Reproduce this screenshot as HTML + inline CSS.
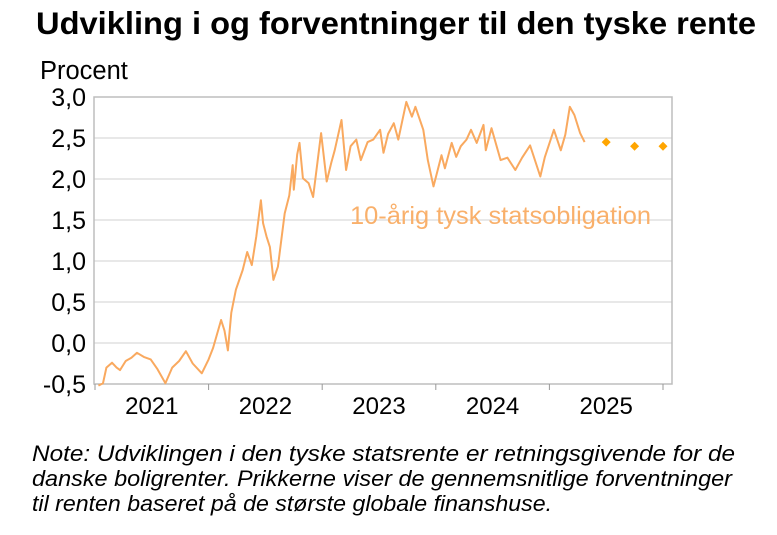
<!DOCTYPE html>
<html><head><meta charset="utf-8"><style>
body{margin:0;width:777px;height:530px;background:#fff;font-family:"Liberation Sans",Arial,sans-serif;overflow:hidden}
svg text{font-family:"Liberation Sans",Arial,sans-serif}
</style></head><body>
<svg id="chart" width="777" height="530" viewBox="0 0 777 530" xmlns="http://www.w3.org/2000/svg">
<text x="396" y="34" text-anchor="middle" font-size="31.5" font-weight="bold" fill="#000" textLength="720" lengthAdjust="spacingAndGlyphs">Udvikling i og forventninger til den tyske rente</text>
<text x="40" y="79" font-size="25.5" fill="#000">Procent</text>
<g id="grid"></g>
<rect x="94" y="97" width="578" height="287" fill="none" stroke="#bdbdbd" stroke-width="1.5"/>
<g id="ticks"></g>
<path id="line" fill="none" stroke="#f9a95f" stroke-width="2" stroke-linejoin="round"/>
<g id="dots"></g>
<text x="350" y="224" font-size="25" fill="#f9b06b" textLength="301" lengthAdjust="spacingAndGlyphs">10-årig tysk statsobligation</text>
<text font-size="22" font-style="italic" fill="#000">
<tspan x="32" y="461" textLength="703" lengthAdjust="spacingAndGlyphs">Note: Udviklingen i den tyske statsrente er retningsgivende for de</tspan>
<tspan x="32" y="486" textLength="700" lengthAdjust="spacingAndGlyphs">danske boligrenter. Prikkerne viser de gennemsnitlige forventninger</tspan>
<tspan x="32" y="511" textLength="520" lengthAdjust="spacingAndGlyphs">til renten baseret på de største globale finanshuse.</tspan>
</text>
</svg>
<script>
const yTicks=[-0.5,0,0.5,1,1.5,2,2.5,3];
const yTickLabels=["-0,5","0,0","0,5","1,0","1,5","2,0","2,5","3,0"];
const yearLabels=["2021","2022","2023","2024","2025"];
const dates=[2021.03,2021.07,2021.1,2021.15,2021.19,2021.22,2021.27,2021.32,2021.37,2021.43,2021.49,2021.55,2021.62,2021.68,2021.74,2021.8,2021.86,2021.94,2022.0,2022.04,2022.11,2022.14,2022.17,2022.2,2022.24,2022.3,2022.34,2022.38,2022.42,2022.46,2022.48,2022.51,2022.54,2022.57,2022.61,2022.67,2022.71,2022.74,2022.75,2022.78,2022.8,2022.83,2022.88,2022.92,2022.99,2023.04,2023.08,2023.11,2023.17,2023.21,2023.25,2023.3,2023.34,2023.4,2023.45,2023.51,2023.54,2023.58,2023.63,2023.67,2023.74,2023.79,2023.82,2023.89,2023.93,2023.98,2024.05,2024.08,2024.14,2024.18,2024.22,2024.27,2024.31,2024.36,2024.42,2024.44,2024.49,2024.57,2024.63,2024.7,2024.76,2024.83,2024.92,2024.96,2025.04,2025.1,2025.14,2025.18,2025.22,2025.27,2025.31];
const yields=[-0.52,-0.49,-0.3,-0.24,-0.3,-0.33,-0.22,-0.18,-0.12,-0.17,-0.2,-0.32,-0.49,-0.3,-0.22,-0.1,-0.25,-0.37,-0.2,-0.06,0.28,0.15,-0.09,0.37,0.65,0.89,1.11,0.95,1.3,1.74,1.46,1.3,1.17,0.77,0.93,1.58,1.8,2.17,1.87,2.3,2.44,2.01,1.95,1.78,2.56,1.97,2.2,2.35,2.72,2.11,2.4,2.48,2.23,2.45,2.48,2.6,2.32,2.55,2.68,2.48,2.94,2.76,2.88,2.6,2.23,1.91,2.29,2.13,2.44,2.27,2.4,2.48,2.6,2.44,2.66,2.35,2.62,2.23,2.26,2.11,2.26,2.41,2.03,2.27,2.6,2.35,2.54,2.88,2.78,2.56,2.45];
const fcDates=[2025.5,2025.75,2026.0];
const fcValues=[2.45,2.4,2.4];
const NS='http://www.w3.org/2000/svg';
const X=t=>95+(t-2021)*113.6;
const Y=v=>384-(v+0.5)*82;
const grid=document.getElementById('grid'),ticks=document.getElementById('ticks');
yTicks.forEach((v,i)=>{
 if(v>-0.5&&v<3){const l=document.createElementNS(NS,'line');
 
 
 l.setAttribute('x1',94);l.setAttribute('x2',672);l.setAttribute('y1',Y(v));l.setAttribute('y2',Y(v));l.setAttribute('stroke','#d9d9d9');l.setAttribute('stroke-width','1.2');grid.appendChild(l);}
 const t=document.createElementNS(NS,'text');
 
 
 t.setAttribute('x',86);t.setAttribute('y',Y(v)+9);t.setAttribute('text-anchor','end');t.setAttribute('font-size','25');t.textContent=yTickLabels[i];ticks.appendChild(t);
});
for(let k=0;k<=5;k++){const l=document.createElementNS(NS,'line');
 
 
 l.setAttribute('x1',X(2021+k));l.setAttribute('x2',X(2021+k));l.setAttribute('y1',384);l.setAttribute('y2',390);l.setAttribute('stroke','#999');ticks.appendChild(l);}
yearLabels.forEach((s,i)=>{const t=document.createElementNS(NS,'text');
 
 
 t.setAttribute('x',X(2021.5+i));t.setAttribute('y',414);t.setAttribute('text-anchor','middle');t.setAttribute('font-size','24');t.textContent=s;ticks.appendChild(t);});
document.getElementById('line').setAttribute('d',dates.map((d,i)=>(i?'L':'M')+X(d).toFixed(1)+','+Y(yields[i]).toFixed(1)).join(''));
const dots=document.getElementById('dots');
fcDates.forEach((d,i)=>{const p=document.createElementNS(NS,'path');
 
 
 const x=X(d),y=Y(fcValues[i]);p.setAttribute('d',`M${x},${y-4.5}L${x+4.5},${y}L${x},${y+4.5}L${x-4.5},${y}Z`);p.setAttribute('fill','#ffa500');dots.appendChild(p);});
</script>
</body></html>
